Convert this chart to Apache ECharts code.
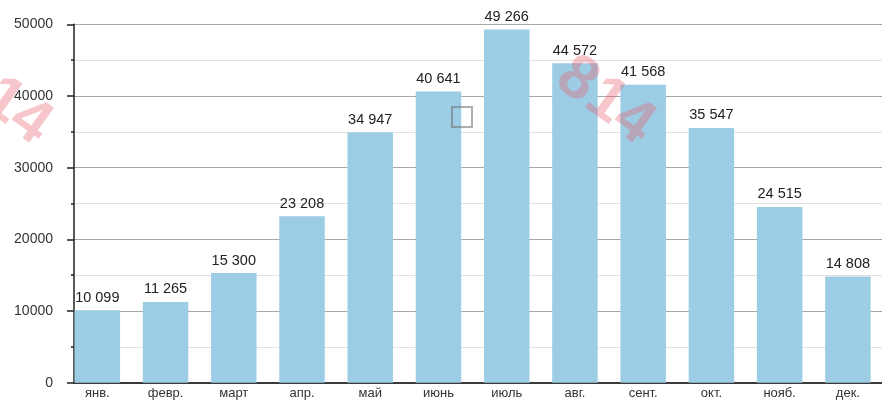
<!DOCTYPE html>
<html>
<head>
<meta charset="utf-8">
<script src="https://cdn.jsdelivr.net/npm/echarts@6/dist/echarts.min.js"></script>
<style>
  html, body { margin: 0; padding: 0; background: #fff; }
  #chart { width: 882px; height: 403px; }
</style>
</head>
<body>
<div id="chart"></div>
<script>
// Monthly values.
const months = ['янв.', 'февр.', 'март', 'апр.', 'май', 'июнь', 'июль', 'авг.', 'сент.', 'окт.', 'нояб.', 'дек.'];
const values = [10099, 11265, 15300, 23208, 34947, 40641, 49266, 44572, 41568, 35547, 24515, 14808];
const yMin = 0;
const yMax = 50000;
const yStep = 10000;

const FONT = '"Liberation Sans", Arial, sans-serif';
const fmt = v => String(v).replace(/\B(?=(\d{3})+(?!\d))/g, ' ');

// watermark digit, drawn rotated around its own centre
function mark(ch, x, y) {
  return {
    type: 'text', x: x, y: y, rotation: -0.62, z: 100,
    style: {
      text: ch, font: 'bold 62px ' + FONT, fill: 'rgba(234,96,110,0.36)',
      align: 'center', verticalAlign: 'middle',
    },
  };
}

const chart = echarts.init(document.getElementById('chart'), null, { renderer: 'canvas' });

chart.setOption({
  animation: false,
  backgroundColor: '#fff',
  textStyle: { fontFamily: FONT },
  grid: [
    // grid 0: value axis, gridlines, baseline
    { left: 74, right: 0, top: 24.3, bottom: 20.3 },
    // grid 1: the bars; shifted so the first bar sits on the axis
    { left: 63.2, right: -2.4, top: 24.3, bottom: 20.3 },
  ],
  xAxis: [
    {
      gridIndex: 0, type: 'value', min: 0, max: 1,
      axisLine: { show: true, lineStyle: { color: '#3a3a3a', width: 2 } },
      axisTick: { show: false }, axisLabel: { show: false }, splitLine: { show: false },
    },
    {
      gridIndex: 1, type: 'category', data: months,
      axisLine: { show: false }, axisTick: { show: false },
      axisLabel: { color: '#333', fontSize: 13, margin: 4, fontFamily: FONT },
    },
  ],
  yAxis: [
    {
      gridIndex: 0, type: 'value', min: yMin, max: yMax, interval: yStep,
      axisLine: { show: true, lineStyle: { color: '#222', width: 1.5 } },
      axisTick: { show: true, length: 7, lineStyle: { color: '#222', width: 1.5 } },
      minorTick: { show: true, splitNumber: 2, length: 3, lineStyle: { color: '#222', width: 1.5 } },
      axisLabel: { color: '#333', fontSize: 14, margin: 21, fontFamily: FONT, formatter: v => String(v) },
      splitLine: { show: true, lineStyle: { color: '#a8a8a8', width: 1.2 } },
      minorSplitLine: { show: true, lineStyle: { color: '#e2e2e2', width: 1.2 } },
    },
    {
      gridIndex: 1, type: 'value', min: yMin, max: yMax, show: false,
    },
  ],
  series: [
    {
      type: 'bar',
      xAxisIndex: 1, yAxisIndex: 1,
      data: values,
      barWidth: 45.5,
      itemStyle: { color: '#9ccde5' },
      label: {
        show: true, position: 'top', distance: 5,
        color: '#222', fontSize: 14.5, fontFamily: FONT,
        formatter: p => fmt(p.value),
      },
      z: 3,
    },
  ],
  graphic: [
    // watermark fragments visible on the reference
    mark('8', -28, 80), mark('1', 3, 101), mark('4', 30, 122),
    mark('8', 577, 80), mark('1', 606, 101), mark('4', 633, 122),
    {
      type: 'rect', z: 100,
      shape: { x: 452, y: 107, width: 20, height: 20 },
      style: { fill: 'none', stroke: 'rgba(110,110,110,0.55)', lineWidth: 2 },
    },
  ],
});
</script>
</body>
</html>
